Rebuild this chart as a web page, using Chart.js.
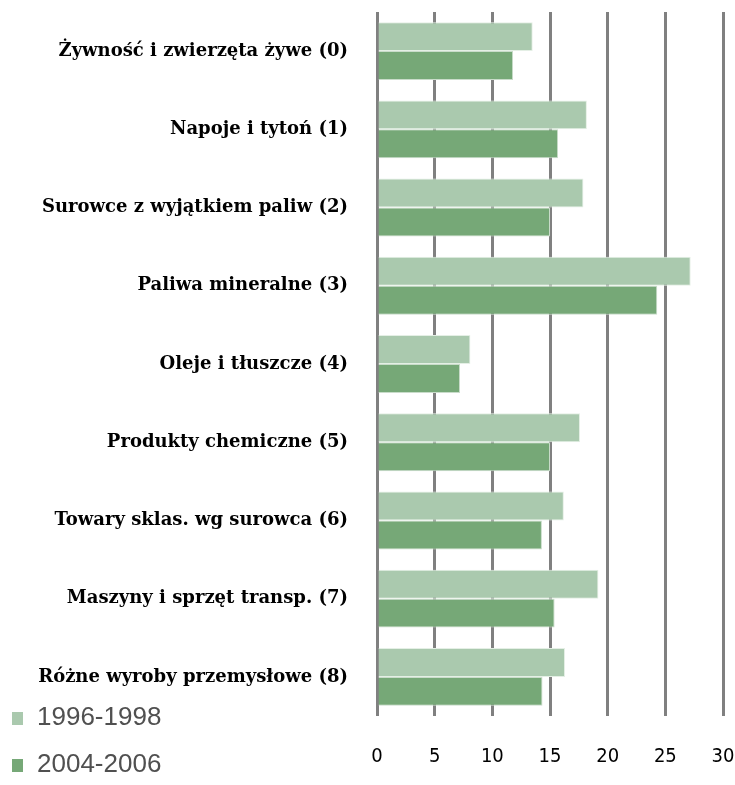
<!DOCTYPE html>
<html>
<head>
<meta charset="utf-8">
<script src="https://cdn.jsdelivr.net/npm/chart.js@4.4.1/dist/chart.umd.min.js"></script>
<style>
  html, body { margin: 0; padding: 0; background: #fff; }
  #wrap { width: 735px; height: 785px; position: relative; }
</style>
</head>
<body>
<div id="wrap"><canvas id="chart"></canvas></div>
<script>
const categories = [
    "Żywność i zwierzęta żywe (0)",
    "Napoje i tytoń (1)",
    "Surowce z wyjątkiem paliw (2)",
    "Paliwa mineralne (3)",
    "Oleje i tłuszcze (4)",
    "Produkty chemiczne (5)",
    "Towary sklas. wg surowca (6)",
    "Maszyny i sprzęt transp. (7)",
    "Różne wyroby przemysłowe (8)"
];
const seriesNames = ["1996-1998", "2004-2006"];
const values1996 = [13.5, 18.2, 17.9, 27.2, 8.1, 17.6, 16.2, 19.2, 16.3];
const values2004 = [11.8, 15.7, 15.0, 24.3, 7.2, 15.0, 14.3, 15.4, 14.35];
const xTicks = [0, 5, 10, 15, 20, 25, 30];

const colLight = "#aac9ae";
const colDark = "#76a877";

// legend drawn bottom-left, like the original
const legendPlugin = {
    id: 'cornerLegend',
    afterDraw(c) {
        const ctx = c.ctx;
        ctx.save();
        c.data.datasets.forEach((ds, i) => {
            let y = 718 + i * 47;
            ctx.fillStyle = ds.backgroundColor;
            ctx.fillRect(12, y - 6, 11, 13);
            ctx.fillStyle = "#505050";
            ctx.font = "26px 'Liberation Sans'";
            ctx.textBaseline = "middle";
            ctx.fillText(ds.label, 37, y);
        });
        ctx.restore();
    }
};

new Chart(document.getElementById('chart'), {
    type: 'bar',
    data: {
        labels: categories,
        datasets: [
            { label: seriesNames[0], data: values1996, backgroundColor: colLight, borderColor: "#e4efe5", borderWidth: 1 },
            { label: seriesNames[1], data: values2004, backgroundColor: colDark, borderColor: "#c9dcca", borderWidth: 1 }
        ]
    },
    options: {
        indexAxis: 'y',
        responsive: true,
        maintainAspectRatio: false,
        animation: false,
        layout: { padding: { top: 12, right: 12, left: 0, bottom: 0 } },
        datasets: { bar: { categoryPercentage: 0.74, barPercentage: 1.0 } },
        plugins: {
            legend: { display: false },
            tooltip: { enabled: false }
        },
        scales: {
            x: {
                min: 0, max: 30,
                afterBuildTicks: s => { s.ticks = xTicks.map(v => ({ value: v })); },
                afterFit: s => { s.height = 69; s.paddingLeft = 0; s.paddingRight = 0; },
                grid: { color: "#808080", lineWidth: 3, drawTicks: false },
                border: { display: false },
                ticks: { color: "#000", padding: 29, font: { family: "DejaVu Sans Condensed", size: 20 } }
            },
            y: {
                afterFit: s => { s.width = 377; s.paddingTop = 0; s.paddingBottom = 0; },
                grid: { display: false },
                border: { display: false },
                ticks: { color: "#000", padding: 21, font: { family: "DejaVu Serif", size: 18, weight: 'bold' } }
            }
        }
    },
    plugins: [legendPlugin]
});
</script>
</body>
</html>
